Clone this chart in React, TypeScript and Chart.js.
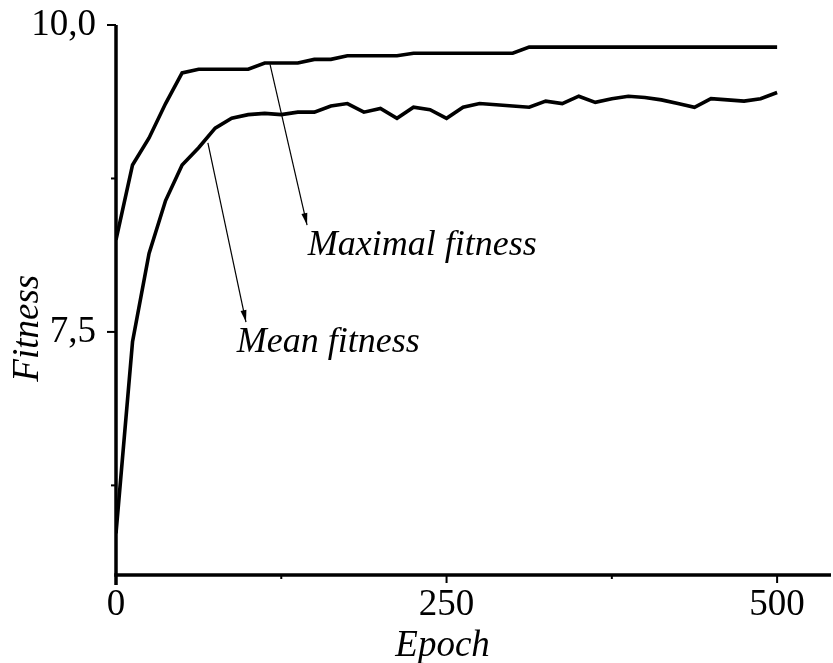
import React, { useEffect, useRef } from "react";
import { Chart, registerables } from "chart.js";

Chart.register(...registerables);

const EPOCHS = [
  0, 12.5, 25, 37.5, 50, 62.5, 75, 87.5, 100, 112.5, 125, 137.5, 150, 162.5,
  175, 187.5, 200, 212.5, 225, 237.5, 250, 262.5, 275, 287.5, 300, 312.5, 325,
  337.5, 350, 362.5, 375, 387.5, 400, 412.5, 425, 437.5, 450, 462.5, 475, 487.5,
  500,
];

const MAX_FITNESS = [
  8.25, 8.86, 9.08, 9.36, 9.61, 9.64, 9.64, 9.64, 9.64, 9.69, 9.69, 9.69, 9.72,
  9.72, 9.75, 9.75, 9.75, 9.75, 9.77, 9.77, 9.77, 9.77, 9.77, 9.77, 9.77, 9.82,
  9.82, 9.82, 9.82, 9.82, 9.82, 9.82, 9.82, 9.82, 9.82, 9.82, 9.82, 9.82, 9.82,
  9.82, 9.82,
];

const MEAN_FITNESS = [
  5.86, 7.42, 8.14, 8.57, 8.86, 9.0, 9.16, 9.24, 9.27, 9.28, 9.27, 9.29, 9.29,
  9.34, 9.36, 9.29, 9.32, 9.24, 9.33, 9.31, 9.24, 9.33, 9.36, 9.35, 9.34, 9.33,
  9.38, 9.36, 9.42, 9.37, 9.4, 9.42, 9.41, 9.39, 9.36, 9.33, 9.4, 9.39, 9.38,
  9.4, 9.45,
];

const X_TICKS = [0, 125, 250, 375, 500];
const X_TICK_LABELS = ["0", "", "250", "", "500"];
const Y_TICKS = [6.25, 7.5, 8.75, 10];
const Y_TICK_LABELS = ["", "7,5", "", "10,0"];

const X_TITLE = "Epoch";
const Y_TITLE = "Fitness";

// annotation: label text, arrow start (on curve), arrow tip, label anchor (data space)
const ANNOTATIONS = [
  { text: "Maximal fitness", from: [116.5, 9.68], to: [144.5, 8.37], label: [145, 8.125] },
  { text: "Mean fitness", from: [69.5, 9.04], to: [98.3, 7.58], label: [91.3, 7.335] },
];

const SERIF = "'Liberation Serif', 'Times New Roman', serif";

const overlayPlugin = {
  id: "overlay",
  afterDraw(chart: any) {
    const ctx = chart.ctx as CanvasRenderingContext2D;
    const xs = chart.scales.x;
    const ys = chart.scales.y;
    const { left, right, top, bottom } = chart.chartArea;
    ctx.save();
    ctx.strokeStyle = "#000";
    ctx.fillStyle = "#000";
    ctx.lineCap = "butt";

    // axes
    ctx.lineWidth = 3.5;
    ctx.beginPath();
    ctx.moveTo(left, top);
    ctx.lineTo(left, bottom + 10);
    ctx.stroke();
    ctx.beginPath();
    ctx.moveTo(left - 1.75, bottom);
    ctx.lineTo(right + 1, bottom);
    ctx.stroke();

    // y ticks
    ctx.lineWidth = 2;
    Y_TICKS.forEach((v, i) => {
      const y = ys.getPixelForValue(v);
      const len = Y_TICK_LABELS[i] ? 9 : 5;
      ctx.beginPath();
      ctx.moveTo(left, y);
      ctx.lineTo(left - len, y);
      ctx.stroke();
    });
    // x ticks
    X_TICKS.forEach((v, i) => {
      if (v === 0) return;
      const x = xs.getPixelForValue(v);
      const len = X_TICK_LABELS[i] ? 8 : 4;
      ctx.beginPath();
      ctx.moveTo(x, bottom);
      ctx.lineTo(x, bottom + len);
      ctx.stroke();
    });

    // annotations
    ctx.font = `italic 36px ${SERIF}`;
    ctx.textAlign = "left";
    ctx.textBaseline = "alphabetic";
    ANNOTATIONS.forEach((a) => {
      const x1 = xs.getPixelForValue(a.from[0]);
      const y1 = ys.getPixelForValue(a.from[1]);
      const x2 = xs.getPixelForValue(a.to[0]);
      const y2 = ys.getPixelForValue(a.to[1]);
      ctx.lineWidth = 1.2;
      ctx.beginPath();
      ctx.moveTo(x1, y1);
      ctx.lineTo(x2, y2);
      ctx.stroke();
      const ang = Math.atan2(y2 - y1, x2 - x1);
      const hl = 12;
      const hw = 3;
      const bx = x2 - hl * Math.cos(ang);
      const by = y2 - hl * Math.sin(ang);
      ctx.beginPath();
      ctx.moveTo(x2, y2);
      ctx.lineTo(bx + hw * Math.sin(ang), by - hw * Math.cos(ang));
      ctx.lineTo(bx - hw * Math.sin(ang), by + hw * Math.cos(ang));
      ctx.closePath();
      ctx.fill();
      ctx.fillText(a.text, xs.getPixelForValue(a.label[0]), ys.getPixelForValue(a.label[1]));
    });

    // axis titles
    ctx.font = `italic 37px ${SERIF}`;
    ctx.textAlign = "center";
    ctx.textBaseline = "alphabetic";
    ctx.fillText(X_TITLE, xs.getPixelForValue(247), 656);
    ctx.save();
    ctx.translate(38, ys.getPixelForValue(7.53));
    ctx.rotate(-Math.PI / 2);
    ctx.fillText(Y_TITLE, 0, 0);
    ctx.restore();

    ctx.restore();
  },
};

export default function App() {
  const ref = useRef<HTMLCanvasElement>(null);
  useEffect(() => {
    if (!ref.current) return;
    const chart = new Chart(ref.current, {
      type: "line",
      data: {
        datasets: [
          {
            label: "Maximal fitness",
            data: EPOCHS.map((e, i) => ({ x: e, y: MAX_FITNESS[i] })),
            borderColor: "#000",
            borderWidth: 3.6,
            pointRadius: 0,
            tension: 0,
            fill: false,
          },
          {
            label: "Mean fitness",
            data: EPOCHS.map((e, i) => ({ x: e, y: MEAN_FITNESS[i] })),
            borderColor: "#000",
            borderWidth: 3.6,
            pointRadius: 0,
            tension: 0,
            fill: false,
          },
        ],
      },
      options: {
        responsive: false,
        animation: false,
        layout: { padding: { left: 0, top: 25, right: 3, bottom: 0 } },
        plugins: { legend: { display: false }, tooltip: { enabled: false } },
        scales: {
          x: {
            type: "linear",
            min: 0,
            max: 540,
            grid: { display: false, drawTicks: false },
            border: { display: false },
            afterBuildTicks: (s: any) => {
              s.ticks = X_TICKS.map((v) => ({ value: v }));
            },
            afterFit: (s: any) => {
              s.height = 88;
              s.paddingLeft = 0;
              s.paddingRight = 0;
            },
            ticks: {
              autoSkip: false,
              maxRotation: 0,
              padding: 8,
              color: "#000",
              font: { family: SERIF, size: 37 },
              callback: (v: any) => {
                const i = X_TICKS.indexOf(Number(v));
                return i >= 0 ? X_TICK_LABELS[i] : "";
              },
            },
          },
          y: {
            type: "linear",
            min: 5.52,
            max: 10,
            grid: { display: false, drawTicks: false },
            border: { display: false },
            afterBuildTicks: (s: any) => {
              s.ticks = Y_TICKS.map((v) => ({ value: v }));
            },
            afterFit: (s: any) => {
              s.width = 116;
              s.paddingTop = 0;
              s.paddingBottom = 0;
            },
            ticks: {
              autoSkip: false,
              padding: 20,
              color: "#000",
              font: { family: SERIF, size: 37 },
              callback: (v: any) => {
                const i = Y_TICKS.indexOf(Number(v));
                return i >= 0 ? Y_TICK_LABELS[i] : "";
              },
            },
          },
        },
      },
      plugins: [overlayPlugin],
    });
    return () => chart.destroy();
  }, []);
  return (
    <div style={{ position: "absolute", left: 0, top: 0, width: 833, height: 663, background: "#fff" }}>
      <canvas ref={ref} width={833} height={663} />
    </div>
  );
}
